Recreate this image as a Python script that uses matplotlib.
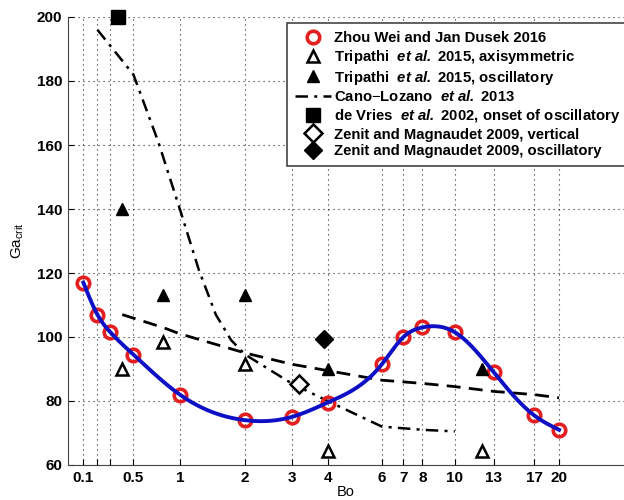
import numpy as np
import matplotlib
matplotlib.use("Agg")
import matplotlib.pyplot as plt

# Zhou Wei & Jan Dusek 2016
bo_zhou = [0.1, 0.2, 0.3, 0.5, 1, 2, 3, 4, 6, 7, 8, 10, 13, 17, 20]
ga_zhou = [117, 107, 101.5, 94.5, 82, 74, 75, 79.5, 91.5, 100, 103, 101.5, 89, 75.5, 71]

# Tripathi et al. 2015
bo_tri_axi = [0.4, 0.8, 2, 4, 12]
ga_tri_axi = [90, 98.5, 91.5, 64.5, 64.5]
bo_tri_osc = [0.4, 0.8, 2, 4, 12]
ga_tri_osc = [140, 113, 113, 90, 90]

# Cano-Lozano et al. 2013 (dash-dot curve)
bo_cano = [0.2, 0.3, 0.5, 0.75, 1, 1.25, 1.5, 1.75, 2, 3, 4, 6, 8, 10]
ga_cano = [196, 191, 182, 161, 140, 121, 107, 99, 94.5, 85.5, 80, 72, 71, 70.5]

# unlabelled dashed curve
bo_dash = [0.4, 0.8, 1, 2, 3, 4, 6, 8, 10, 13, 17, 20]
ga_dash = [107, 103, 101, 95, 91.5, 89.5, 86.5, 85.5, 84.5, 83, 82, 81]

# de Vries et al. 2002 / Zenit & Magnaudet 2009
bo_devries, ga_devries = [0.36], [200]
bo_zm_vert, ga_zm_vert = [3.2], [85.3]
bo_zm_osc, ga_zm_osc = [3.9], [99.4]

tick_bo = bo_zhou
tick_lbl = ["0.1", "", "", "0.5", "1", "2", "3", "4", "6", "7", "8", "10", "13", "17", "20"]


def fwd(x):
    return np.log10(1 + np.asarray(x, dtype=float))


def inv(u):
    return 10 ** np.asarray(u, dtype=float) - 1


def spline(x, y, n=400):
    # natural cubic spline (smooth fit through the DNS points)
    x, y = np.asarray(x, float), np.asarray(y, float)
    k = len(x)
    h = np.diff(x)
    A = np.zeros((k, k))
    r = np.zeros(k)
    A[0, 0] = A[-1, -1] = 1
    for i in range(1, k - 1):
        A[i, i - 1], A[i, i], A[i, i + 1] = h[i - 1], 2 * (h[i - 1] + h[i]), h[i]
        r[i] = 3 * ((y[i + 1] - y[i]) / h[i] - (y[i] - y[i - 1]) / h[i - 1])
    c = np.linalg.solve(A, r)
    b = (y[1:] - y[:-1]) / h - h * (2 * c[:-1] + c[1:]) / 3
    d = (c[1:] - c[:-1]) / (3 * h)
    xs = np.linspace(x[0], x[-1], n)
    j = np.clip(np.searchsorted(x, xs) - 1, 0, k - 2)
    t = xs - x[j]
    return xs, y[j] + b[j] * t + c[j] * t ** 2 + d[j] * t ** 3


plt.rcParams["font.family"] = ["Liberation Sans", "DejaVu Sans"]
plt.rcParams["mathtext.fontset"] = "custom"
plt.rcParams["mathtext.rm"] = "Liberation Sans"
plt.rcParams["mathtext.it"] = "Liberation Sans:italic"
plt.rcParams["mathtext.bf"] = "Liberation Sans:bold"
plt.rcParams["mathtext.bfit"] = "Liberation Sans:bold:italic"

fig = plt.figure(figsize=(6.24, 5.0), dpi=100)
ax = fig.add_axes([68 / 624, 35 / 500, 1 - 68 / 624, 448 / 500])
ax.set_xscale("function", functions=(fwd, inv))

RED = "#e3201f"
BLUE = "#0d10c4"

ax.plot(bo_dash, ga_dash, color="k", lw=2.0, dashes=(5, 3), zorder=3)
ax.plot(bo_cano, ga_cano, color="k", lw=1.8, dashes=(5, 2.5, 1.2, 2.5), zorder=3,
        label=r"Cano$-$Lozano  $\mathbfit{et\ al.}$ 2013")
ax.plot(bo_zhou, ga_zhou, "o", ms=9, mfc="none", mec=RED, mew=2.6, zorder=4,
        label="Zhou Wei and Jan Dusek 2016")
us, gs = spline(fwd(bo_zhou), ga_zhou)
ax.plot(inv(us), gs, color=BLUE, lw=2.8, zorder=5)
ax.plot(bo_tri_axi, ga_tri_axi, "^", ms=8, mfc="white", mec="k", mew=1.8, zorder=4,
        label=r"Tripathi  $\mathbfit{et\ al.}$ 2015, axisymmetric")
ax.plot(bo_tri_osc, ga_tri_osc, "^", ms=8, color="k", zorder=4,
        label=r"Tripathi  $\mathbfit{et\ al.}$ 2015, oscillatory")
ax.plot(bo_devries, ga_devries, "s", ms=10, color="k", zorder=6, clip_on=False,
        label=r"de Vries  $\mathbfit{et\ al.}$ 2002, onset of oscillatory")
ax.plot(bo_zm_vert, ga_zm_vert, "D", ms=9, mfc="white", mec="k", mew=1.8, zorder=4,
        label="Zenit and Magnaudet 2009, vertical")
ax.plot(bo_zm_osc, ga_zm_osc, "D", ms=9, color="k", zorder=4,
        label="Zenit and Magnaudet 2009, oscillatory")

ax.set_xlim(0, 30.4)
ax.set_ylim(60, 200)
ax.set_xticks(tick_bo)
ax.set_xticklabels(tick_lbl, fontsize=11, fontweight="bold")
ax.set_yticks(np.arange(60, 201, 20))
ax.set_yticklabels([str(v) for v in range(60, 201, 20)], fontsize=11, fontweight="bold")
ax.tick_params(direction="in", length=4, width=0.8, pad=4)
ax.grid(True, color="#222222", ls=(0, (1, 3.5)), lw=0.8)
ax.spines["top"].set_visible(False)
ax.spines["right"].set_visible(False)
for s in ("left", "bottom"):
    ax.spines[s].set_color("#444444")
ax.set_xlabel("Bo", fontsize=10.5, labelpad=0)
ax.set_ylabel(r"Ga$_{\rm crit}$", fontsize=11, labelpad=8)

h, l = ax.get_legend_handles_labels()
order = [1, 2, 3, 0, 4, 5, 6]
leg = ax.legend([h[i] for i in order], [l[i] for i in order],
                loc="upper left", bbox_to_anchor=(287 / 624, 1 - 23 / 500),
                bbox_transform=fig.transFigure, borderaxespad=0,
                prop={"size": 10.7, "weight": "bold"}, labelspacing=0.18,
                handlelength=2.4, handletextpad=0.2, borderpad=0.55,
                fancybox=False, framealpha=1, edgecolor="#444444")
leg.get_frame().set_linewidth(1.2)

fig.savefig("out.png", dpi=100)
